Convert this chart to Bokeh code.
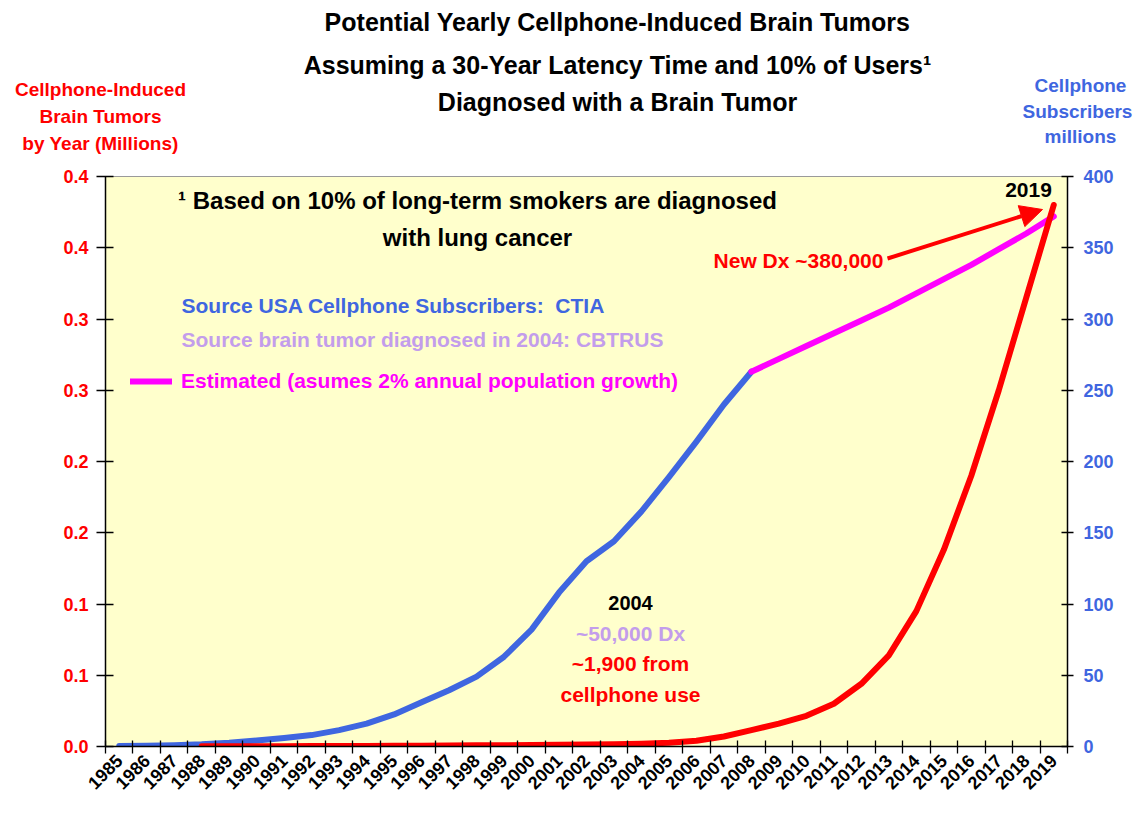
from bokeh.plotting import figure
from bokeh.layouts import column
from bokeh.models import (Range1d, LinearAxis, FixedTicker, Label, Arrow, NormalHead,
                          Legend, LegendItem)
from bokeh.embed import file_html
from bokeh.resources import INLINE

# ---------------- data ----------------
years = list(range(1985, 2020))
blue_years = list(range(1985, 2009))
subscribers = [0.3, 0.5, 0.9, 1.5, 2.6, 4.2, 6, 8, 11.5, 16, 22.5, 31, 39.5, 49, 63,
               82, 108, 130, 144, 165, 189, 214, 240, 263]
est_years = list(range(2008, 2020))
subscribers_est = [263, 272, 281, 290, 299, 308, 318, 328, 338, 349, 360, 372]
tumor_years = list(range(1988, 2020))
tumors = [0.0001, 0.0001, 0.0002, 0.0002, 0.0003, 0.0003, 0.0004, 0.0005, 0.0006, 0.0007,
          0.0008, 0.0009, 0.0010, 0.0012, 0.0014, 0.0016, 0.0019, 0.0026, 0.0040, 0.0070,
          0.0115, 0.0160, 0.0215, 0.0300, 0.0440, 0.0640, 0.0950, 0.1380, 0.1900, 0.2500,
          0.3150, 0.3800]
left_ticks = [0.0, 0.05, 0.1, 0.15, 0.2, 0.25, 0.3, 0.35, 0.4]
left_tick_labels = ["0.0", "0.1", "0.1", "0.2", "0.2", "0.3", "0.3", "0.4", "0.4"]
right_ticks = [0, 50, 100, 150, 200, 250, 300, 350, 400]
x_tick_labels = [str(y) for y in years]

RED = "#FF0000"
BLUE = "#3F66E0"
MAGENTA = "#FF00FF"
LAVENDER = "#C39DEB"
FONT = "Liberation Sans"

W = 1134
HEAD_H = 164

# ---------------- header figure (titles) ----------------
head = figure(width=W, height=HEAD_H, output_backend="svg", toolbar_location=None,
              x_range=Range1d(0, W), y_range=Range1d(HEAD_H, 0),
              x_axis_type=None, y_axis_type=None, min_border=0)
head.frame_align = False
head.outline_line_color = None
head.xgrid.visible = False
head.ygrid.visible = False
head.background_fill_color = "white"

def head_text(text, x, y, size, color):
    head.add_layout(Label(x=x, y=y, text=text, text_align="center", text_baseline="middle",
                          text_font=FONT, text_font_style="bold",
                          text_font_size=f"{size}px", text_color=color))

head_text("Potential Yearly Cellphone-Induced Brain Tumors", 617, 21, 25, "black")
head_text("Assuming a 30-Year Latency Time and 10% of Users\u00b9", 617, 64, 25, "black")
head_text("Diagnosed with a Brain Tumor", 617, 101, 25, "black")
head_text("Cellphone-Induced", 100, 89, 19, RED)
head_text("Brain Tumors", 100, 116, 19, RED)
head_text("by Year (Millions)", 100, 143, 19, RED)
head_text("Cellphone", 1080, 85, 19, BLUE)
head_text("Subscribers", 1077, 111, 19, BLUE)
head_text("millions", 1080, 136, 19, BLUE)

# ---------------- main figure ----------------
TOP = 176 - HEAD_H          # border above frame
FRAME_L, FRAME_R, FRAME_B = 105, 1067, 746
p = figure(width=W, height=TOP + 570 + 62, output_backend="svg", toolbar_location=None,
           x_range=Range1d(1984.5, 2019.5), y_range=Range1d(0, 400),
           y_axis_location="right",
           min_border_left=FRAME_L, min_border_right=W - FRAME_R, min_border_top=TOP,
           min_border_bottom=62)
p.frame_align = False
p.extra_y_ranges = {"tumors": Range1d(0, 0.4)}
p.border_fill_color = "white"
p.background_fill_color = "#FFFFCC"
p.outline_line_color = "#9a9a9a"
p.outline_line_width = 1
p.xgrid.visible = False
p.ygrid.visible = False

# x axis
xa = p.xaxis[0]
xa.ticker = FixedTicker(ticks=years, minor_ticks=[y - 0.5 for y in years] + [2019.5])
xa.major_label_overrides = {y: s for y, s in zip(years, x_tick_labels)}
xa.major_tick_line_color = None
xa.major_tick_out = 7
xa.major_tick_in = 0
xa.minor_tick_line_color = "black"
xa.minor_tick_in = 6
xa.minor_tick_out = 7
xa.minor_tick_line_width = 1.3
xa.axis_line_color = "black"
xa.axis_line_width = 1.5
xa.major_label_orientation = 0.785398
xa.major_label_text_font = FONT
xa.major_label_text_font_style = "bold"
xa.major_label_text_font_size = "18px"
xa.major_label_text_color = "black"
xa.major_label_standoff = 4

# right axis (subscribers)
ra = p.yaxis[0]
ra.ticker = FixedTicker(ticks=right_ticks)
ra.minor_tick_line_color = None
ra.major_tick_in = 6
ra.major_tick_out = 6
ra.major_tick_line_color = "black"
ra.major_tick_line_width = 1.3
ra.axis_line_color = "black"
ra.axis_line_width = 1.5
ra.major_label_text_font = FONT
ra.major_label_text_font_style = "bold"
ra.major_label_text_font_size = "18px"
ra.major_label_text_color = BLUE
ra.major_label_standoff = 10

# left axis (tumors)
la = LinearAxis(y_range_name="tumors")
la.ticker = FixedTicker(ticks=left_ticks)
la.major_label_overrides = {t: s for t, s in zip(left_ticks, left_tick_labels)}
la.minor_tick_line_color = None
la.major_tick_in = 8
la.major_tick_out = 9
la.major_tick_line_color = "black"
la.major_tick_line_width = 1.3
la.axis_line_color = "black"
la.axis_line_width = 1.5
la.major_label_text_font = FONT
la.major_label_text_font_style = "bold"
la.major_label_text_font_size = "18px"
la.major_label_text_color = RED
la.major_label_standoff = 8
p.add_layout(la, "left")

# series
p.line(blue_years, subscribers, line_color=BLUE, line_width=6, line_join="round", line_cap="round")
est = p.line(est_years, subscribers_est, line_color=MAGENTA, line_width=6, line_join="round", line_cap="round")
p.line(tumor_years, tumors, y_range_name="tumors", line_color=RED, line_width=6,
       line_join="round", line_cap="round")

legend = Legend(items=[LegendItem(label="Estimated (asumes 2% annual population growth)", renderers=[est])],
                location=(25, 353), padding=0, margin=0, glyph_width=42, glyph_height=24,
                label_height=24, label_standoff=9, background_fill_alpha=0, border_line_alpha=0,
                label_text_font=FONT, label_text_font_style="bold", label_text_font_size="21px",
                label_text_color=MAGENTA)
p.add_layout(legend, "center")

# helpers mapping reference-image pixels to data coordinates (annotation placement)
def px2x(px):
    return 1984.5 + (px - FRAME_L) * 35.0 / (FRAME_R - FRAME_L)

def py2y(py):
    return (FRAME_B - py) * 400.0 / 570.0

def add_text(text, px, py, size, color, align="center"):
    p.add_layout(Label(x=px2x(px), y=py2y(py), text=text, text_align=align, text_baseline="middle",
                       text_font=FONT, text_font_style="bold",
                       text_font_size=f"{size}px", text_color=color))

add_text("\u00b9 Based on 10% of long-term smokers are diagnosed", 477, 200, 24, "black")
add_text("with lung cancer", 477, 237, 24, "black")
add_text("Source USA Cellphone Subscribers:\u00a0 CTIA", 181, 305, 21, BLUE, align="left")
add_text("Source brain tumor diagnosed in 2004: CBTRUS", 181, 339, 21, LAVENDER, align="left")

add_text("2004", 630, 602, 20, "black")
add_text("~50,000 Dx", 630, 633, 21, LAVENDER)
add_text("~1,900 from", 630, 663, 21, RED)
add_text("cellphone use", 630, 694, 21, RED)

add_text("New Dx ~380,000", 798, 260, 21, RED)
add_text("2019", 1028, 189, 21, "black")

p.add_layout(Arrow(x_start=px2x(887), y_start=py2y(258), x_end=px2x(1042), y_end=py2y(209),
                   line_color=RED, line_width=4,
                   end=NormalHead(size=22, fill_color=RED, line_color=RED)))

layout = column(head, p, spacing=0)
open("out.html", "w").write(file_html(layout, INLINE))
